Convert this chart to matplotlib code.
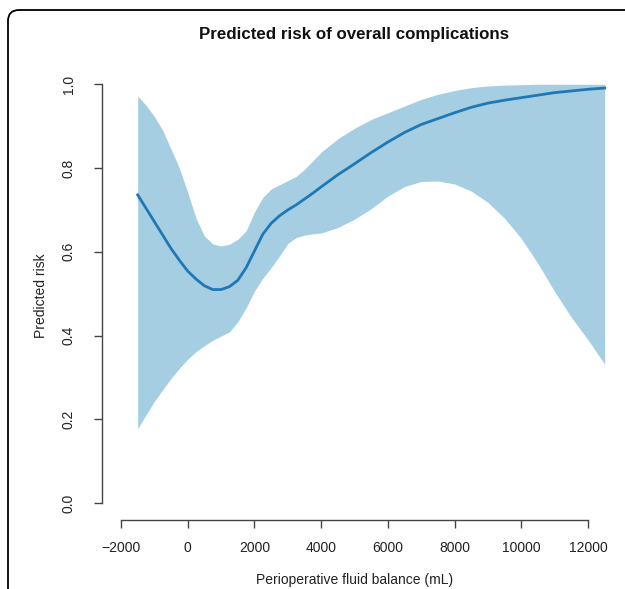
import numpy as np
import matplotlib.pyplot as plt
from matplotlib.patches import FancyBboxPatch

plt.rcParams['font.family'] = ['Liberation Sans', 'DejaVu Sans']

# fluid balance (mL) where the curve was read
balance = np.array([-1500, -1250, -1000, -750, -500, -250, 0, 250, 500, 750, 1000,
                    1250, 1500, 1750, 2000, 2250, 2500, 2750, 3000, 3250, 3500,
                    3750, 4000, 4500, 5000, 5500, 6000, 6500, 7000, 7500, 8000,
                    8500, 9000, 9500, 10000, 10500, 11000, 11500, 12000, 12500])

# predicted risk and its confidence band
risk = np.array([0.736, 0.704, 0.672, 0.640, 0.608, 0.580, 0.554, 0.535, 0.519, 0.510, 0.510,
                 0.517, 0.532, 0.562, 0.602, 0.642, 0.668, 0.686, 0.700, 0.712, 0.726,
                 0.740, 0.755, 0.784, 0.810, 0.837, 0.862, 0.885, 0.904, 0.918, 0.932,
                 0.945, 0.955, 0.962, 0.968, 0.974, 0.980, 0.984, 0.988, 0.991])
upper = np.array([0.972, 0.950, 0.923, 0.890, 0.845, 0.800, 0.742, 0.680, 0.638, 0.619, 0.614,
                  0.618, 0.630, 0.650, 0.695, 0.730, 0.750, 0.760, 0.770, 0.780, 0.797,
                  0.817, 0.838, 0.870, 0.895, 0.916, 0.932, 0.948, 0.964, 0.976, 0.985,
                  0.992, 0.996, 0.998, 0.999, 1.0, 1.0, 1.0, 1.0, 1.0])
lower = np.array([0.178, 0.211, 0.243, 0.271, 0.298, 0.322, 0.344, 0.362, 0.376, 0.389, 0.399,
                  0.409, 0.433, 0.466, 0.506, 0.537, 0.562, 0.590, 0.620, 0.634, 0.640,
                  0.643, 0.645, 0.658, 0.678, 0.703, 0.733, 0.756, 0.768, 0.769, 0.762,
                  0.745, 0.718, 0.680, 0.632, 0.572, 0.505, 0.444, 0.390, 0.332])

xticks = [-2000, 0, 2000, 4000, 6000, 8000, 10000, 12000]
yticks = [0.0, 0.2, 0.4, 0.6, 0.8, 1.0]

W, H = 625, 589
fig = plt.figure(figsize=(W / 100, H / 100), dpi=100)

# rounded frame of the figure panel
bg = fig.add_axes([0, 0, 1, 1])
bg.set_xlim(0, W)
bg.set_ylim(H, 0)
bg.axis('off')
bg.add_patch(FancyBboxPatch((8, 10), 700, 700, boxstyle='round,pad=0,rounding_size=11',
                            fill=False, ec='black', lw=1.3))

ax = fig.add_axes([102 / W, (H - 520) / H, 505 / W, (520 - 67.5) / H])
ax.patch.set_alpha(0)
ax.fill_between(balance, lower, upper, color='#a6cee3', lw=0)
ax.plot(balance, risk, color='#1f78b4', lw=2)

ax.set_xlim(-2570, 12570)
ax.set_ylim(-0.04, 1.04)
ax.set_xticks(xticks)
ax.set_xticklabels([f'{t}'.replace('-', '\u2212') for t in xticks])
ax.set_yticks(yticks)
ax.set_yticklabels([f'{t:.1f}' for t in yticks], rotation=90, va='center')

for s in ['top', 'right']:
    ax.spines[s].set_visible(False)
ax.spines['left'].set_bounds(0, 1)
ax.spines['bottom'].set_bounds(-2000, 12000)
for s in ['left', 'bottom']:
    ax.spines[s].set_color('#444444')
    ax.spines[s].set_linewidth(1.0)
ax.tick_params(axis='x', length=6, width=1.0, color='#444444', labelsize=10, pad=9,
               labelcolor='#222222')
ax.tick_params(axis='y', length=6, width=1.0, color='#444444', labelsize=10, pad=13,
               labelcolor='#222222')

fig.text(354.5 / W, 1 - 34 / H, 'Predicted risk of overall complications',
         ha='center', va='center', fontsize=12.2, fontweight='bold', color='#111111')
fig.text(354.5 / W, 1 - 580 / H, 'Perioperative fluid balance (mL)',
         ha='center', va='center', fontsize=10, color='#222222')
fig.text(41 / W, 1 - 296 / H, 'Predicted risk', rotation=90,
         ha='center', va='center', fontsize=10, color='#222222')

fig.savefig('out.png', dpi=100)
